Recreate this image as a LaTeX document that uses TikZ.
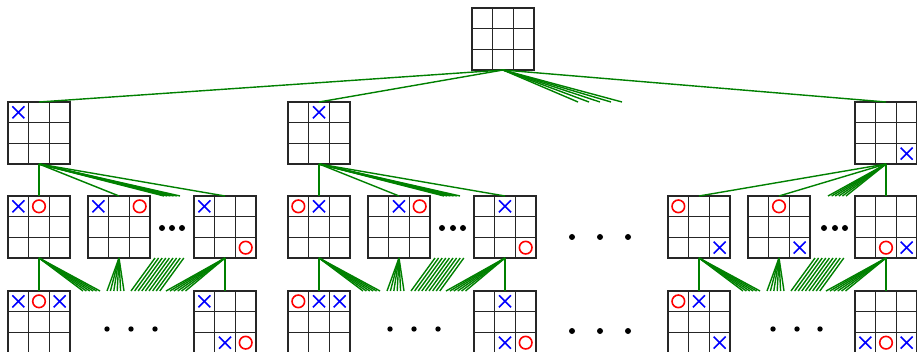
\documentclass[tikz,border=0pt]{standalone}
\begin{document}
\tikzset{
  board/.style={draw=black!85, line width=1.1pt, minimum size=62pt, inner sep=0pt, outer sep=0pt},
  gridline/.style={draw=black!85, line width=1.1pt},
  xmark/.style={draw=blue, line width=1.6pt},
  omark/.style={draw=red, line width=1.6pt},
  edge/.style={draw=green!50!black, line width=1.4pt},
  dotfill/.style={fill=black},
}
\def\cs{20.667pt}
\newcommand\tttb[3]{%
  \node[board] (#1) at (#2+31,#3+31) {};
  \foreach \k in {1,2}{%
    \draw[gridline] ([xshift=\k*\cs]#1.north west) -- ([xshift=\k*\cs]#1.south west);
    \draw[gridline] ([yshift=-\k*\cs]#1.north west) -- ([yshift=-\k*\cs]#1.north east);}}
\newcommand\mX[3]{\draw[xmark] ([xshift={(#3+0.5)*\cs}, yshift={-(#2+0.5)*\cs}]#1.north west) +(-6,-6) -- +(6,6) +(-6,6) -- +(6,-6);}
\newcommand\mO[3]{\draw[omark] ([xshift={(#3+0.5)*\cs}, yshift={-(#2+0.5)*\cs}]#1.north west) circle[radius=6.3pt];}
\begin{tikzpicture}[x=1pt,y=-1pt]
\useasboundingbox (0,0) rectangle (917,352);
\clip (0,0) rectangle (917,352);
% boards
\tttb{root}{472}{8}
\tttb{a}{8}{102}   \tttb{b}{288}{102}  \tttb{c}{855}{102}
\tttb{a1}{8}{196}  \tttb{a2}{88}{196}  \tttb{a3}{194}{196}
\tttb{b1}{288}{196} \tttb{b2}{368}{196} \tttb{b3}{474}{196}
\tttb{c1}{668}{196} \tttb{c2}{748}{196} \tttb{c3}{855}{196}
\tttb{a11}{8}{291}  \tttb{a31}{194}{291}
\tttb{b11}{288}{291} \tttb{b31}{474}{291}
\tttb{c11}{668}{291} \tttb{c31}{855}{291}
% marks
\mX{a}{0}{0}
\mX{b}{0}{1}
\mX{c}{2}{2}
\mX{a1}{0}{0} \mO{a1}{0}{1}
\mX{a2}{0}{0} \mO{a2}{0}{2}
\mX{a3}{0}{0} \mO{a3}{2}{2}
\mX{a11}{0}{0} \mO{a11}{0}{1} \mX{a11}{0}{2}
\mX{a31}{0}{0} \mX{a31}{2}{1} \mO{a31}{2}{2}
\mO{b1}{0}{0} \mX{b1}{0}{1}
\mX{b2}{0}{1} \mO{b2}{0}{2}
\mX{b3}{0}{1} \mO{b3}{2}{2}
\mO{b11}{0}{0} \mX{b11}{0}{1} \mX{b11}{0}{2}
\mX{b31}{0}{1} \mX{b31}{2}{1} \mO{b31}{2}{2}
\mO{c1}{0}{0} \mX{c1}{2}{2}
\mO{c2}{0}{1} \mX{c2}{2}{2}
\mO{c3}{2}{1} \mX{c3}{2}{2}
\mO{c11}{0}{0} \mX{c11}{0}{1} \mX{c11}{2}{2}
\mX{c31}{2}{0} \mO{c31}{2}{1} \mX{c31}{2}{2}
% root edges
\draw[edge] (root.south) -- (a.north);
\draw[edge] (root.south) -- (b.north);
\draw[edge] (root.south) -- (c.north);
\foreach \i in {0,...,4}{%
  \coordinate (rf\i) at (578+11*\i,102);
  \draw[edge] (root.south) -- (rf\i);}
% level 1 -> level 2
\foreach \p/\q/\r/\s/\o in {a/a1/a2/a3/0, b/b1/b2/b3/280}{%
  \draw[edge] (\p.south) -- (\q.north);
  \draw[edge] (\p.south) -- (\r.north);
  \draw[edge] (\p.south) -- (\s.north);
  \foreach \i in {0,...,5}{%
    \coordinate (\p f\i) at (\o+164+3.2*\i,196);
    \draw[edge] (\p.south) -- (\p f\i);}}
\draw[edge] (c.south) -- (c1.north);
\draw[edge] (c.south) -- (c2.north);
\draw[edge] (c.south) -- (c3.north);
\foreach \i in {0,...,5}{%
  \coordinate (cf\i) at (828+3.6*\i,196);
  \draw[edge] (c.south) -- (cf\i);}
% level 2 -> level 3
\foreach \o/\ga/\gb/\gc/\ha/\hb in {0/a1/a2/a3/a11/a31, 280/b1/b2/b3/b11/b31, 660/c1/c2/c3/c11/c31}{%
  \draw[edge] (\ga.south) -- (\ha.north);
  \draw[edge] (\gc.south) -- (\hb.north);
  \foreach \i in {0,...,5}{%
    \coordinate (\ga f\i) at (\o+83+3.4*\i,291);
    \draw[edge] (\ga.south) -- (\ga f\i);
    \coordinate (\gb f\i) at (\o+107+3.4*\i,291);
    \draw[edge] (\gb.south) -- (\gb f\i);
    \coordinate (\gc f\i) at (\o+166+3.9*\i,291);
    \draw[edge] (\gc.south) -- (\gc f\i);}
  \foreach \i in {0,...,8}{%
    \coordinate (\ga pt\i) at (\o+155+3.6*\i,258);
    \coordinate (\ga pb\i) at (\o+131+3.6*\i,291);
    \draw[edge] (\ga pt\i) -- (\ga pb\i);}}
% dots
\foreach \x in {162,172,182, 442,453,463, 824,835,845}{\fill[dotfill] (\x,228) circle[radius=3pt];}
\foreach \x in {107,131,155, 390,414,438, 773,797,820}{\fill[dotfill] (\x,329) circle[radius=2.7pt];}
\foreach \x in {572,600,628}{%
  \fill[dotfill] (\x,237) circle[radius=3pt];
  \fill[dotfill] (\x,331) circle[radius=3pt];}
\end{tikzpicture}
\end{document}
